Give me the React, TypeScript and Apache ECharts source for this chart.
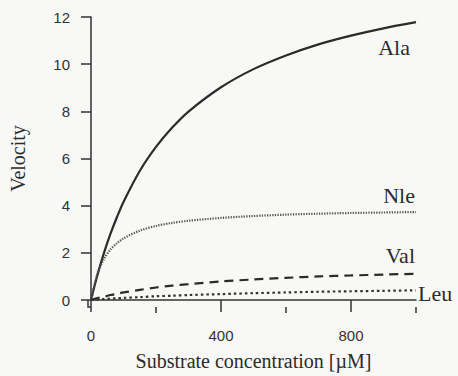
import React, { useEffect, useRef } from "react";
import * as echarts from "echarts";

// Substrate concentration [µM] sample points
const xValues = [0, 20, 40, 60, 80, 100, 150, 200, 250, 300, 400, 500, 600, 700, 800, 900, 1000];
const ala = [0, 1.07, 2.0, 2.81, 3.52, 4.16, 5.47, 6.49, 7.31, 7.99, 9.02, 9.79, 10.37, 10.84, 11.21, 11.52, 11.78];
const nle = [0, 1.12, 1.74, 2.14, 2.41, 2.61, 2.94, 3.14, 3.27, 3.36, 3.48, 3.56, 3.62, 3.66, 3.69, 3.71, 3.73];
const val = [0, 0.08, 0.14, 0.21, 0.26, 0.32, 0.43, 0.53, 0.61, 0.67, 0.79, 0.87, 0.94, 1.0, 1.04, 1.08, 1.11];
const leu = [0, 0.02, 0.04, 0.06, 0.07, 0.09, 0.12, 0.16, 0.18, 0.21, 0.25, 0.29, 0.32, 0.35, 0.37, 0.39, 0.41];

const seriesNames = ["Ala", "Nle", "Val", "Leu"];
const majorXTicks = [0, 400, 800];
const minorXTicks = [200, 600, 1000];

const SERIF = '"Liberation Serif", "Times New Roman", serif';
const SANS = '"Liberation Sans", Arial, sans-serif';
const INK = "#2b2b2b";

function pairs(ys: number[]) {
  return xValues.map((x, i) => [x, ys[i]]);
}

export default function App() {
  const ref = useRef<HTMLDivElement>(null);

  useEffect(() => {
    if (!ref.current) return;
    const chart = echarts.init(ref.current, null, { renderer: "svg" });

    const lineBase = {
      type: "line" as const,
      showSymbol: false,
      smooth: 0.3,
      silent: true,
    };

    chart.setOption({
      animation: false,
      backgroundColor: "#f8f8f6",
      grid: { left: 91, top: 17, right: 42, bottom: 73 },
      xAxis: [
        {
          type: "value",
          min: 0,
          max: 1000,
          offset: 7,
          position: "bottom",
          name: "Substrate concentration [µM]",
          nameLocation: "middle",
          nameGap: 44,
          nameTextStyle: { fontFamily: SERIF, fontSize: 20, color: INK },
          axisLine: { show: true, lineStyle: { color: "#333", width: 1.5 } },
          axisTick: {
            show: true,
            length: 12,
            customValues: majorXTicks,
            lineStyle: { color: "#333", width: 1.5 },
          },
          axisLabel: {
            customValues: majorXTicks,
            margin: 21,
            fontFamily: SANS,
            fontSize: 15,
            color: "#333",
          },
          splitLine: { show: false },
        },
        {
          type: "value",
          min: 0,
          max: 1000,
          offset: 7,
          position: "bottom",
          axisLine: { show: false },
          axisTick: {
            show: true,
            length: 6,
            customValues: minorXTicks,
            lineStyle: { color: "#333", width: 1.5 },
          },
          axisLabel: { show: false },
          splitLine: { show: false },
        },
      ],
      yAxis: {
        type: "value",
        min: 0,
        max: 12,
        interval: 2,
        offset: 3,
        name: "Velocity",
        nameLocation: "middle",
        nameGap: 60,
        nameTextStyle: { fontFamily: SERIF, fontSize: 20, color: INK },
        axisLine: { show: true, lineStyle: { color: "#333", width: 1.5 } },
        axisTick: { show: true, length: 10, lineStyle: { color: "#333", width: 1.5 } },
        axisLabel: { margin: 18, fontFamily: SANS, fontSize: 15, color: "#333" },
        splitLine: { show: false },
      },
      series: [
        {
          ...lineBase,
          name: seriesNames[0],
          data: pairs(ala),
          lineStyle: { color: INK, width: 2.2, type: "solid" },
        },
        {
          ...lineBase,
          name: seriesNames[1],
          data: pairs(nle),
          lineStyle: { color: "#555", width: 2.2, type: [1.3, 1.3] },
        },
        {
          ...lineBase,
          name: seriesNames[2],
          data: pairs(val),
          lineStyle: { color: INK, width: 2.2, type: [9, 6] },
        },
        {
          ...lineBase,
          name: seriesNames[3],
          data: pairs(leu),
          lineStyle: { color: "#333", width: 2.2, type: [2.5, 3] },
        },
      ],
    });

    const last = xValues.length - 1;
    const endOf = (ys: number[]) =>
      chart.convertToPixel({ xAxisIndex: 0, yAxisIndex: 0 }, [xValues[last], ys[last]]) as number[];
    const origin = chart.convertToPixel({ xAxisIndex: 0, yAxisIndex: 0 }, [0, 0]) as number[];

    const pA = endOf(ala);
    const pN = endOf(nle);
    const pV = endOf(val);
    const pL = endOf(leu);

    const labelStyle = (text: string, align: string) => ({
      text,
      fontFamily: SERIF,
      fontSize: 22,
      fill: INK,
      align,
      verticalAlign: "middle",
    });

    chart.setOption({
      graphic: [
        { type: "text", x: pA[0] - 6, y: pA[1] + 25, style: labelStyle(seriesNames[0], "right"), silent: true },
        { type: "text", x: pN[0] - 1, y: pN[1] - 17, style: labelStyle(seriesNames[1], "right"), silent: true },
        { type: "text", x: pV[0] - 1, y: pV[1] - 18, style: labelStyle(seriesNames[2], "right"), silent: true },
        { type: "text", x: pL[0] + 2, y: pL[1] + 3, style: labelStyle(seriesNames[3], "left"), silent: true },
        {
          type: "polyline",
          silent: true,
          shape: {
            points: [
              [origin[0] - 3, origin[1]],
              [origin[0] - 3, origin[1] + 7],
              [origin[0], origin[1] + 7],
            ],
          },
          style: { stroke: "#333", lineWidth: 1.5, fill: "none" },
        },
      ],
    });

    return () => chart.dispose();
  }, []);

  return (
    <div
      ref={ref}
      style={{ position: "absolute", left: 0, top: 0, width: 458, height: 376 }}
    />
  );
}
